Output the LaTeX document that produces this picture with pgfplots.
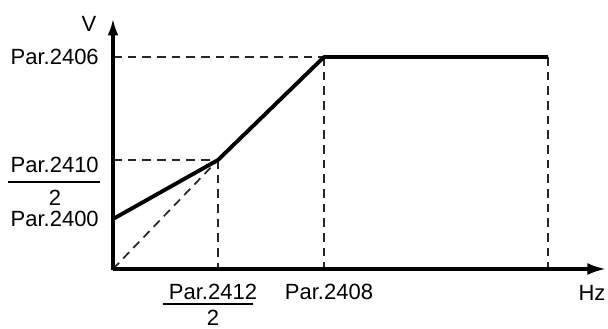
\documentclass[border=0pt]{standalone}
\usepackage{pgfplots}
\pgfplotsset{compat=1.18}
\usepackage{fontspec}
\setmainfont{Liberation Sans}
\usetikzlibrary{arrows.meta}
\tikzset{lbl/.style={font=\fontsize{16.5}{19}\selectfont, inner sep=0pt},
  dsh/.style={black!85, line width=1.3pt, dash pattern=on 6.5pt off 4.5pt}}
\begin{document}
\begin{tikzpicture}
\begin{axis}[
  x=0.75pt, y=0.75pt,
  xmin=-113, xmax=495, ymin=-60, ymax=269,
  hide axis, clip=false,
]
% invisible corners to fix extent
\addplot[draw=none, forget plot] coordinates {(-113,-60) (495,269)};
% dashed guides
\addplot[dsh] coordinates {(0,212) (211,212)};
\addplot[dsh] coordinates {(0,109) (105,109)};
\addplot[dsh] coordinates {(105,109) (105,0)};
\addplot[dsh] coordinates {(211,212) (211,0)};
\addplot[dsh] coordinates {(435,212) (435,0)};
\addplot[dsh] coordinates {(0,0) (105,109)};
% axes
\addplot[black, line width=2.4pt, -{Latex[length=14pt,width=9pt]}] coordinates {(0,0) (493,0)};
\addplot[black, line width=3pt, -{Latex[length=13pt,width=8pt]}] coordinates {(0,-1.5) (0,251)};
% main curve
\addplot[black, line width=2.9pt, line join=round] coordinates {(0,50) (105,109) (211,212) (435,212)};
% fraction bars
\addplot[black, line width=1.2pt] coordinates {(-105,87) (-13,87)};
\addplot[black, line width=1.2pt] coordinates {(50,-35) (140,-35)};
% labels
\node[lbl, anchor=east] at (axis cs:-14,212) {Par.2406};
\node[lbl, anchor=east] at (axis cs:-14,104) {Par.2410};
\node[lbl] at (axis cs:-58,71) {2};
\node[lbl, anchor=east] at (axis cs:-14,50) {Par.2400};
\node[lbl] at (axis cs:100,-23) {Par.2412};
\node[lbl] at (axis cs:100,-49) {2};
\node[lbl] at (axis cs:216,-23) {Par.2408};
\node[lbl] at (axis cs:479,-24) {Hz};
\node[lbl] at (axis cs:-24,245) {V};
\end{axis}
\end{tikzpicture}
\end{document}
